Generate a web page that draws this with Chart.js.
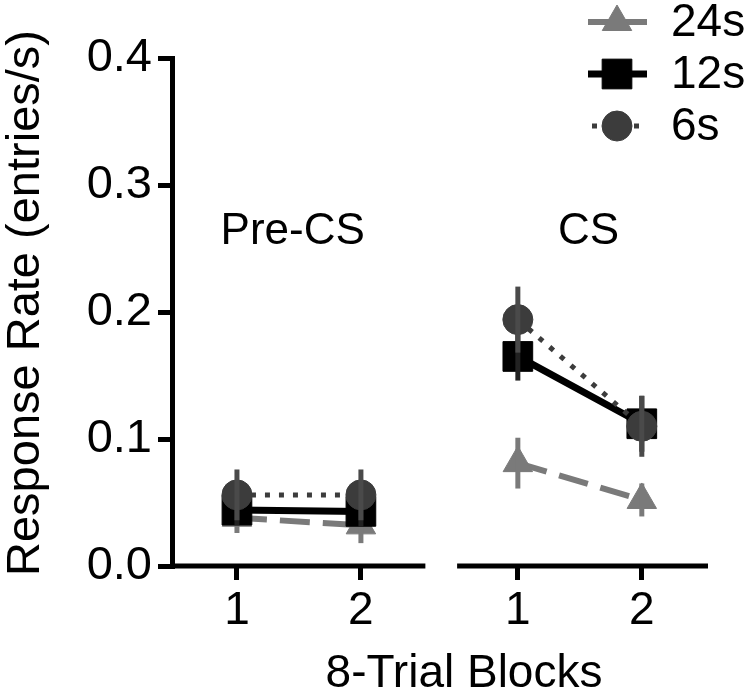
<!DOCTYPE html>
<html>
<head>
<meta charset="utf-8">
<script src="https://cdn.jsdelivr.net/npm/chart.js@4/dist/chart.umd.min.js"></script>
<style>
  html, body { margin: 0; padding: 0; background: #fff; }
  #caixa { width: 750px; height: 698px; }
</style>
</head>
<body>
<div id="caixa"><canvas id="grafico"></canvas></div>
<script>
// dados
const grupos = ['Pre-CS', 'CS']
const blocos = ['1', '2']
const series = ['24s', '12s', '6s']
const taxa24 = [0.038, 0.032, 0.081, 0.052]
const erro24 = [0.012, 0.014, 0.020, 0.013]
const taxa12 = [0.044, 0.043, 0.165, 0.112]
const erro12 = [0.012, 0.012, 0.019, 0.022]
const taxa6 = [0.056, 0.056, 0.194, 0.110]
const erro6 = [0.020, 0.020, 0.026, 0.024]
const ticksY = [0, 0.1, 0.2, 0.3, 0.4]

const fonte = 'Liberation Sans, Arial, Helvetica, sans-serif'
const espacoGrupo = 1.266   // distancia extra entre Pre-CS e CS
const deslocaRotulo = [-0.05, 0.07]   // ajuste dos rotulos Pre-CS / CS

function posX(g, b) {
    return 1 + g * (blocos.length - 1 + espacoGrupo) + b
}

function geraPontos(valores, erros) {
    let pontos = [], barras = []
    valores.forEach((v, i) => {
        let g = Math.floor(i / blocos.length)
        let b = i % blocos.length
        if (g > 0 && b === 0) {
            pontos.push({x: posX(g, 0) - 0.6, y: null})
            barras.push(null)
        }
        pontos.push({x: posX(g, b), y: v})
        barras.push(erros[i])
    })
    return {pontos, barras}
}

const d24 = geraPontos(taxa24, erro24)
const d12 = geraPontos(taxa12, erro12)
const d6 = geraPontos(taxa6, erro6)

const posicoesX = []
grupos.forEach((g, gi) => blocos.forEach((b, bi) => posicoesX.push(posX(gi, bi))))

// barras de erro
const barrasDeErro = {
    id: 'barrasDeErro',
    afterDatasetDraw(chart, args) {
        const ds = chart.data.datasets[args.index]
        const ctx = chart.ctx
        const y = chart.scales.y
        ctx.save()
        ctx.strokeStyle = ds.corErro
        ctx.lineWidth = 5
        args.meta.data.forEach((p, i) => {
            let e = ds.erros[i]
            let v = ds.data[i].y
            if (e == null || v == null) return
            ctx.beginPath()
            ctx.moveTo(p.x, y.getPixelForValue(v + e))
            ctx.lineTo(p.x, y.getPixelForValue(v - e))
            ctx.stroke()
        })
        ctx.restore()
    }
}

// eixo x quebrado, titulos, rotulos dos grupos e legenda
const extras = {
    id: 'extras',
    beforeDatasetsDraw(chart) {
        const ctx = chart.ctx
        const x = chart.scales.x
        const y = chart.scales.y
        const area = chart.chartArea
        const base = y.getPixelForValue(0)
        ctx.save()
        ctx.strokeStyle = '#000'
        ctx.lineWidth = 5
        grupos.forEach((g, gi) => {
            let ini = gi === 0 ? area.left : x.getPixelForValue(posX(gi, 0) - 0.49)
            let fim = gi === grupos.length - 1 ? area.right : x.getPixelForValue(posX(gi, blocos.length - 1) + 0.52)
            ctx.beginPath()
            ctx.moveTo(ini, base)
            ctx.lineTo(fim, base)
            ctx.stroke()
        })
        ctx.restore()
    },
    afterDraw(chart) {
        const ctx = chart.ctx
        const x = chart.scales.x
        const y = chart.scales.y
        ctx.save()
        ctx.fillStyle = '#000'
        ctx.font = '44px ' + fonte
        ctx.textAlign = 'center'
        ctx.textBaseline = 'middle'

        // rotulos dos grupos
        grupos.forEach((g, gi) => {
            let meio = (posX(gi, 0) + posX(gi, blocos.length - 1)) / 2 + deslocaRotulo[gi]
            ctx.fillText(g, x.getPixelForValue(meio), y.getPixelForValue(0.263))
        })

        // titulo do eixo x
        ctx.font = '46px ' + fonte
        ctx.fillText('8-Trial Blocks', 464, 674)

        // titulo do eixo y
        ctx.save()
        ctx.translate(26, 303)
        ctx.rotate(-Math.PI / 2)
        ctx.font = '47px ' + fonte
        ctx.fillText('Response Rate (entries/s)', 0, 0)
        ctx.restore()

        // legenda
        const linhasLegenda = [22, 74, 126]
        ctx.textAlign = 'left'
        chart.data.datasets.slice().reverse().forEach((ds, i) => {
            let ly = linhasLegenda[i]
            ctx.save()
            ctx.strokeStyle = ds.borderColor
            ctx.lineWidth = ds.borderWidth
            ctx.setLineDash(ds.borderDash || [])
            ctx.lineDashOffset = ds.legendaOffset || 0
            ctx.beginPath()
            ctx.moveTo(588, ly)
            ctx.lineTo(647, ly)
            ctx.stroke()
            ctx.restore()
            ctx.fillStyle = ds.pointBackgroundColor
            ctx.strokeStyle = ds.pointBackgroundColor
            ctx.lineWidth = 1
            Chart.helpers.drawPoint(ctx, {pointStyle: ds.pointStyle, radius: ds.pointRadius, rotation: 0, borderWidth: 1}, 617, ly)
            ctx.fillStyle = '#000'
            ctx.fillText(ds.label, 671, ly + 1)
        })
        ctx.restore()
    }
}

const grafico = document.getElementById('grafico')

const graficoResposta = new Chart(grafico, {
    type: 'line',
    data: {
        datasets: [
            {
                label: series[2],
                data: d6.pontos,
                erros: d6.barras,
                corErro: '#4a4a4a',
                borderColor: '#3c3c3c',
                borderWidth: 5,
                borderDash: [5, 9],
                legendaOffset: -4,
                pointStyle: 'circle',
                pointRadius: 15,
                pointBackgroundColor: '#3c3c3c',
                pointBorderColor: '#3c3c3c',
                pointBorderWidth: 1
            },
            {
                label: series[1],
                data: d12.pontos,
                erros: d12.barras,
                corErro: '#222',
                borderColor: '#000',
                borderWidth: 7,
                pointStyle: 'rect',
                pointRadius: 21,
                pointBackgroundColor: '#000',
                pointBorderColor: '#000',
                pointBorderWidth: 1
            },
            {
                label: series[0],
                data: d24.pontos,
                erros: d24.barras,
                corErro: '#7a7a7a',
                borderColor: '#7a7a7a',
                borderWidth: 6,
                borderDash: [30, 13],
                legendaOffset: 8,
                pointStyle: 'triangle',
                pointRadius: 17,
                pointBackgroundColor: '#7a7a7a',
                pointBorderColor: '#7a7a7a',
                pointBorderWidth: 1
            }
        ]
    },
    options: {
        responsive: true,
        maintainAspectRatio: false,
        animation: false,
        spanGaps: false,
        layout: {padding: {top: 58, right: 42, left: 0, bottom: 0}},
        font: {family: fonte},
        plugins: {
            legend: {display: false},
            tooltip: {enabled: false}
        },
        elements: {line: {tension: 0, borderCapStyle: 'butt'}},
        scales: {
            x: {
                type: 'linear',
                min: 0.476,
                max: 4.8,
                afterFit(scale) { scale.height = 132 },
                afterBuildTicks(scale) { scale.ticks = posicoesX.map(v => ({value: v})) },
                border: {display: false},
                grid: {drawOnChartArea: false, drawTicks: true, tickLength: 14, lineWidth: 5, color: '#000'},
                ticks: {
                    autoSkip: false,
                    maxRotation: 0,
                    padding: 4,
                    color: '#000',
                    font: {family: fonte, size: 46},
                    callback: (v) => {
                        let i = posicoesX.findIndex(p => Math.abs(p - v) < 1e-6)
                        return i < 0 ? '' : blocos[i % blocos.length]
                    }
                }
            },
            y: {
                min: 0,
                max: 0.4,
                afterFit(scale) { scale.width = 172 },
                afterBuildTicks(scale) { scale.ticks = ticksY.map(v => ({value: v})) },
                border: {display: true, color: '#000', width: 5},
                grid: {drawOnChartArea: false, drawTicks: true, tickLength: 14, lineWidth: 5, color: '#000'},
                ticks: {
                    padding: 6,
                    color: '#000',
                    font: {family: fonte, size: 47},
                    callback: (v) => v.toFixed(1)
                }
            }
        }
    },
    plugins: [barrasDeErro, extras]
})
</script>
</body>
</html>
